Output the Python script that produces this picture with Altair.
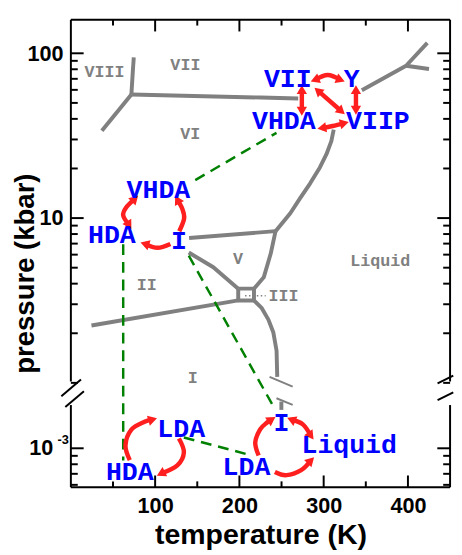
import altair as alt
import numpy as np
import pandas as pd

# ---------------- data (T in K, p in kbar) ----------------
# gray phase boundaries
bnd_names = ["VIII-VII", "VIII-VI", "VI-VII", "VII-L", "VII-L fork", "VI-L", "VI-V",
             "V-L", "III", "III-L", "I-L low", "II-I", "V-II"]
bnd_T = [
    [74.6, 71.8],
    [71.8, 36.8],
    [71.8, 225.4, 269.8],
    [345.3, 397.8, 423.0],
    [397.8, 425.0],
    [311.9, 309.1, 303.3, 295.5, 283.8, 272.1, 260.4, 242.9],
    [140.3, 242.9],
    [242.9, 237.1, 228.9, 217.3],
    [198.6, 217.3, 217.3, 198.6, 198.6],
    [217.3, 226.6, 234.4, 240.3, 244.1, 244.9],
    [249.8, 249.8],
    [24.4, 198.6],
    [139.9, 169.1, 198.6],
]
bnd_p = [
    [94.3, 56.2],
    [56.2, 33.9],
    [56.2, 53.9, 53.2],
    [59.6, 84.0, 115.8],
    [84.0, 80.3],
    [34.4, 29.3, 24.4, 20.3, 16.2, 13.2, 10.7, 8.33],
    [7.57, 8.33],
    [8.33, 6.07, 4.37, 3.73],
    [3.73, 3.73, 3.165, 3.165, 3.73],
    [3.165, 2.84, 2.42, 2.02, 1.567, 1.087],
    [1.92e-3, 1.71e-3],
    [2.23, 3.165],
    [6.18, 5.03, 3.73],
]
# break marks on the melting line
mbrk_T = [[235.8, 263.2], [244.0, 263.2]]
mbrk_p = [[1.087, 0.948], [0.807, 0.736]]

# green dashed paths
grn_T = [[147.6, 244.0], [62.1, 62.1], [139.9, 240.3], [134.1, 214.9]]
grn_p = [[17.0, 32.9], [6.94, 8.44e-4], [5.91, 1.797e-3], [1.163e-3, 9.04e-4]]

# red arrows (paths)
arr_names = ["A", "B", "C", "D", "E", "F", "G", "H", "I", "J", "K", "L", "M"]
arr_T = [
    [76.1, 65.6, 62.1, 69.1],
    [128.6, 134.4, 132.1, 126.3],
    [118.1, 102.9, 87.7],
    [289.6, 304.8, 320.0],
    [274.1, 274.1],
    [338.3, 338.3],
    [293.1, 321.1],
    [297.8, 310.6, 324.6],
    [69.9, 64.8, 71.8, 87.4, 97.1],
    [128.2, 134.1, 126.3, 106.8],
    [222.8, 218.8, 224.6, 232.4, 238.3],
    [261.6, 275.3, 284.9],
    [242.1, 255.8, 273.3, 284.9],
]
arr_p = [
    [13.11, 11.58, 10.38, 9.05],
    [8.33, 9.96, 11.42, 12.93],
    [6.97, 6.60, 6.97],
    [69.0, 73.9, 69.0],
    [60.2, 44.5],
    [60.2, 45.1],
    [59.3, 44.5],
    [35.2, 36.2, 37.7],
    [8.48e-4, 1.042e-3, 1.297e-3, 1.448e-3, 1.495e-3],
    [1.147e-3, 9.46e-4, 7.88e-4, 7.02e-4],
    [9.04e-4, 1.086e-3, 1.302e-3, 1.428e-3, 1.495e-3],
    [1.495e-3, 1.396e-3, 1.190e-3],
    [7.19e-4, 6.87e-4, 7.36e-4, 8.44e-4],
]
# arrow heads
head_T = [76.1, 69.1, 126.3, 87.7, 289.6, 320.0, 274.1, 274.1, 338.3, 338.3,
          293.1, 321.1, 297.8, 324.6, 97.1, 106.8, 238.3, 261.6, 284.9, 284.9]
head_p = [13.11, 9.05, 12.93, 6.97, 69.0, 69.0, 60.2, 44.5, 60.2, 45.1,
          59.3, 44.5, 35.2, 37.7, 1.495e-3, 7.02e-4, 1.495e-3, 1.495e-3, 1.190e-3, 8.44e-4]
head_angle = [45, 149, 331, 287, 249, 111, 0, 180, 0, 180,
              311, 131, 260, 76, 74, 243, 57, 293, 144, 45]

# blue state labels
blue_text = ["VHDA", "HDA", "I", "VII", "Y", "VHDA", "VIIP", "LDA", "HDA", "LDA", "I", "Liquid"]
blue_T = [103.9, 48.7, 128.2, 257.4, 333.4, 252.7, 364.4, 130.9, 69.9, 208.4, 249.8, 330.3]
blue_p = [14.77, 7.83, 7.26, 70.0, 70.0, 38.6, 38.6, 1.315e-3, 7.19e-4, 7.70e-4, 1.428e-3, 1.042e-3]

# gray phase labels
gray_text = ["VIII", "VII", "VI", "V", "II", "I", "III", "Liquid"]
gray_T = [39.8, 135.9, 141.8, 198.2, 90.1, 144.6, 252.2, 367.2]
gray_p = [77.3, 84.8, 32.4, 5.65, 3.91, 1.062, 3.38, 5.52]
lead_T = [206.7, 231.2]
lead_p = [3.38, 3.38]

# axes
x_major = [100, 200, 300, 400]
x_minor = [50, 150, 250, 350]
y_major = [100, 10, 1e-3]
y_minor = [90, 80, 70, 60, 50, 40, 30, 20, 9, 8, 7, 6, 5, 4, 3, 2, 1,
           9e-4, 8e-4, 7e-4, 6e-4]
frame_top_p = [160, 1.83e-3]
frame_bot_p = [1.02, 5.8e-4]
axbrk_T = [[-11.3, 12.0], [-6.6, 15.5], [435.2, 453.8], [435.2, 453.8]]
axbrk_p = [[0.830, 1.048], [0.713, 0.889], [0.992, 1.107], [0.785, 0.877]]

# ---------------- scale helpers ----------------
OFFSET = 2.603   # log10 shift applied to the lower (ambient) segment of the broken axis
T_MIN, T_MAX = 0, 450
P_TOP, P_BOTTOM = 160, 5.8e-4
W, H = 386, 476


def to_u(p):
    p = np.asarray(p, dtype=float)
    return np.where(p >= 0.1, np.log10(p), np.log10(p) + OFFSET)


def paths(names, Ts, ps):
    rows = []
    for n, ts, pp in zip(names, Ts, ps):
        for i, (t, p) in enumerate(zip(ts, pp)):
            rows.append(dict(id=n, i=i, T=t, p=p))
    df = pd.DataFrame(rows)
    df["u"] = to_u(df["p"])
    return df


xs = alt.Scale(domain=[T_MIN, T_MAX], nice=False, zero=False)
ys = alt.Scale(domain=[float(to_u(P_BOTTOM)), float(to_u(P_TOP))], nice=False, zero=False)

FONT = "Liberation Sans"
x_axis = alt.Axis(values=x_major, ticks=False, domain=False, grid=False, labelFlush=False,
                  labelOverlap=False, labelFont=FONT, labelFontWeight="bold", labelFontSize=22,
                  labelColor="black", labelPadding=9, format="d",
                  title="temperature (K)", titleFont=FONT, titleFontWeight="bold",
                  titleFontSize=29, titleColor="black", titleY=57, titleBaseline="alphabetic")
y_axis = alt.Axis(values=[2, 1], ticks=False, domain=False, grid=False, labelFlush=False,
                  labelOverlap=False, labelExpr="datum.value > 1.5 ? '100' : '10'",
                  labelFont=FONT, labelFontWeight="bold", labelFontSize=22, labelColor="black",
                  labelPadding=8, title="pressure (kbar)", titleFont=FONT, titleFontWeight="bold",
                  titleFontSize=28, titleColor="black", titleAngle=270, titleX=-38, titleY=258,
                  titleBaseline="alphabetic", titleAlign="center")


def X(f="T"):
    return alt.X(f"{f}:Q", scale=xs, axis=x_axis)


def Y(f="u"):
    return alt.Y(f"{f}:Q", scale=ys, axis=y_axis)


layers = []

# frame
frame_df = pd.DataFrame({"p1": frame_top_p, "p2": frame_bot_p})
frame_df["u"] = to_u(frame_df["p1"])
frame_df["u2"] = to_u(frame_df["p2"])
for xv in (0, W):
    layers.append(alt.Chart(frame_df).mark_rule(color="black", strokeWidth=2).encode(
        x=alt.value(xv), y=Y(), y2="u2:Q"))
hz = pd.DataFrame({"T": [T_MIN]})
for yv in (0, H):
    layers.append(alt.Chart(hz).mark_rule(color="black", strokeWidth=2).encode(
        x=alt.value(0), x2=alt.value(W), y=alt.value(yv)))

# ticks
ymaj = pd.DataFrame({"u": to_u(y_major)})
ymin = pd.DataFrame({"u": to_u(y_minor)})
for df, ln in ((ymaj, 13), (ymin, 7)):
    layers.append(alt.Chart(df).mark_rule(color="black", strokeWidth=2).encode(
        x=alt.value(0), x2=alt.value(ln), y=Y()))
    layers.append(alt.Chart(df).mark_rule(color="black", strokeWidth=2).encode(
        x=alt.value(W), x2=alt.value(W - ln), y=Y()))
xmaj = pd.DataFrame({"T": x_major})
xmin = pd.DataFrame({"T": x_minor})
for df, ln in ((xmaj, 12), (xmin, 6)):
    layers.append(alt.Chart(df).mark_rule(color="black", strokeWidth=2).encode(
        x=X(), y=alt.value(0), y2=alt.value(ln)))
    layers.append(alt.Chart(df).mark_rule(color="black", strokeWidth=2).encode(
        x=X(), y=alt.value(H), y2=alt.value(H - ln)))

# axis break marks
layers.append(alt.Chart(paths(["a", "b", "c", "d"], axbrk_T, axbrk_p)).mark_line(
    color="black", strokeWidth=2).encode(x=X(), y=Y(), detail="id:N", order="i:Q"))

# 10^-3 label
lab3 = pd.DataFrame({"u": to_u([1e-3])})
layers.append(alt.Chart(lab3).mark_text(text="10", font=FONT, fontWeight="bold", fontSize=22,
                                         align="right", baseline="middle", color="black").encode(
    x=alt.value(-18), y=Y()))
layers.append(alt.Chart(lab3).mark_text(text="-3", font=FONT, fontWeight="bold", fontSize=13,
                                         align="right", baseline="middle", color="black", dy=-8).encode(
    x=alt.value(-2), y=Y()))

# gray boundaries
layers.append(alt.Chart(paths(bnd_names, bnd_T, bnd_p)).mark_line(
    color="#808080", strokeWidth=4, strokeJoin="round").encode(
    x=X(), y=Y(), detail="id:N", order="i:Q"))
layers.append(alt.Chart(paths(["s1", "s2"], mbrk_T, mbrk_p)).mark_line(
    color="#808080", strokeWidth=2).encode(x=X(), y=Y(), detail="id:N", order="i:Q"))
layers.append(alt.Chart(paths(["lead"], [lead_T], [lead_p])).mark_line(
    color="#808080", strokeWidth=1.5, strokeDash=[1.5, 2.5]).encode(x=X(), y=Y(), detail="id:N", order="i:Q"))

# gray labels
gdf = pd.DataFrame({"text": gray_text, "T": gray_T, "p": gray_p})
gdf["u"] = to_u(gdf["p"])
layers.append(alt.Chart(gdf).mark_text(font="Liberation Mono", fontWeight="bold", fontSize=17,
                                        color="#808080", baseline="middle").encode(
    x=X(), y=Y(), text="text:N"))

# green dashed lines
layers.append(alt.Chart(paths(["g1", "g2", "g3", "g4"], grn_T, grn_p)).mark_line(
    color="#008000", strokeWidth=2.5, strokeDash=[11, 7]).encode(
    x=X(), y=Y(), detail="id:N", order="i:Q"))

# red arrows
layers.append(alt.Chart(paths(arr_names, arr_T, arr_p)).mark_line(
    color="#ff1f1f", strokeWidth=4.5, interpolate="cardinal").encode(
    x=X(), y=Y(), detail="id:N", order="i:Q"))
hdf = pd.DataFrame({"T": head_T, "p": head_p, "angle": head_angle})
hdf["u"] = to_u(hdf["p"])
layers.append(alt.Chart(hdf).mark_point(shape="triangle-up", filled=True, opacity=1,
                                         color="#ff1f1f", size=110).encode(
    x=X(), y=Y(), angle=alt.Angle("angle:Q", scale=None)))

# blue labels
bdf = pd.DataFrame({"text": blue_text, "T": blue_T, "p": blue_p})
bdf["u"] = to_u(bdf["p"])
layers.append(alt.Chart(bdf).mark_text(font="Liberation Mono", fontWeight="bold", fontSize=27,
                                        color="#0000ff", baseline="middle").encode(
    x=X(), y=Y(), text="text:N"))

chart = alt.layer(*layers).properties(
    width=W, height=H,
    padding={"left": 64, "top": 7, "right": 4, "bottom": 60},
    autosize=alt.AutoSizeParams(type="none"),
    background="white",
).configure_view(stroke=None)

chart.save("out.html", embed_options={"renderer": "svg", "actions": False})
